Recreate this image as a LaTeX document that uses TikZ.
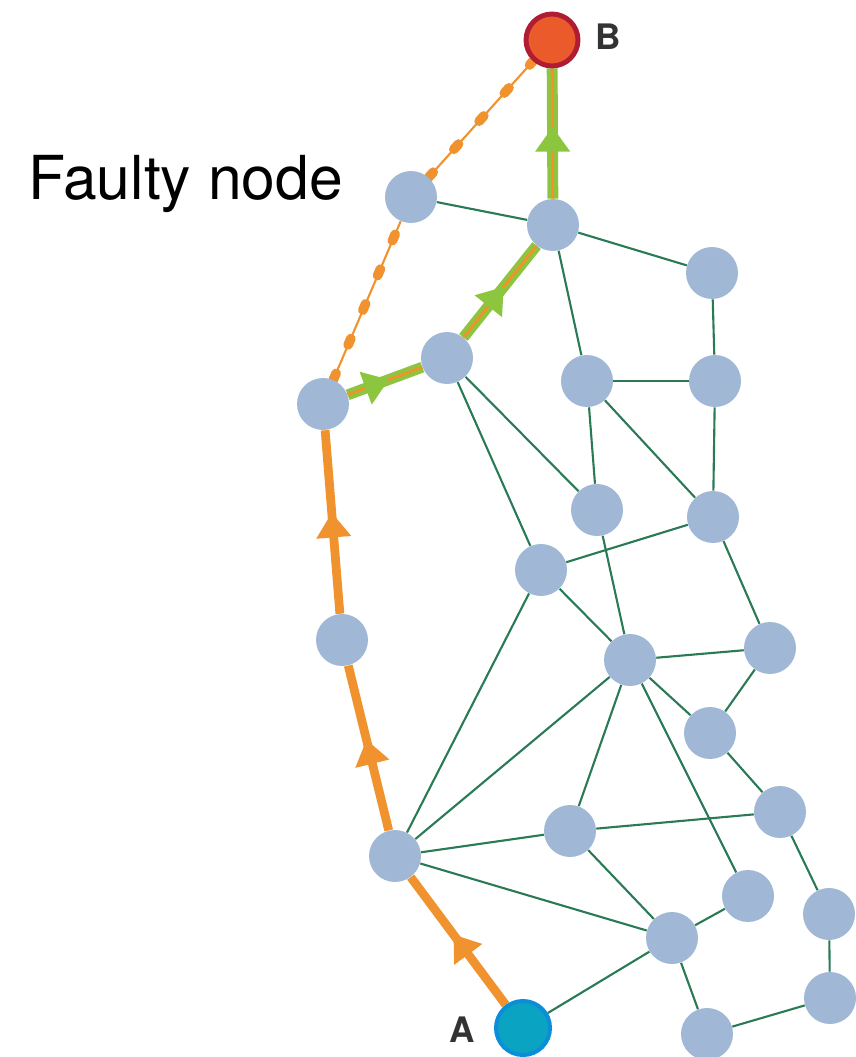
\documentclass[tikz,border=0pt]{standalone}
\usepackage{fontspec}
\setmainfont{TeX Gyre Heros}
\usetikzlibrary{arrows.meta,decorations.markings,backgrounds}

\definecolor{routerblue}{HTML}{A0B8D6}
\definecolor{linkgreen}{HTML}{2A7A55}
\definecolor{wayorange}{HTML}{F0922E}
\definecolor{waygreen}{HTML}{8CC63F}
\definecolor{srcfill}{HTML}{0AA3C2}
\definecolor{srcring}{HTML}{0A8ED9}
\definecolor{dstfill}{HTML}{EB5A2B}
\definecolor{dstring}{HTML}{B01C33}
\definecolor{lblgray}{HTML}{333333}

\begin{document}
\begin{tikzpicture}[x=0.02cm,y=-0.02cm,
  router/.style={circle,fill=routerblue,minimum size=1.04cm,inner sep=0pt},
  link/.style={linkgreen,line width=1.2pt},
  midtip/.style={postaction={decorate,decoration={markings,
    mark=at position .55 with {\arrow{Triangle[length=14pt,width=20pt,line width=0pt]}}}}},
  oldway/.style={wayorange,line width=5pt,midtip},
  newway/.style={waygreen,line width=6.2pt,
    postaction={draw,wayorange,line width=1.6pt},midtip},
  faultway/.style={wayorange,line width=1.2pt,
    postaction={draw,line width=5.5pt,line cap=round,dash pattern=on 4pt off 17.5pt}},
  endlbl/.style={font=\fontsize{20}{24}\selectfont\bfseries,text=lblgray,inner sep=0pt}]

\useasboundingbox (0,0) rectangle (855,1057);

% routers
\node[router] (faulty) at (411,197) {};
\node[router] (r1) at (553,225) {};
\node[router] (r2) at (712,273) {};
\node[router] (r3) at (447,358) {};
\node[router] (r4) at (587,381) {};
\node[router] (r5) at (715,381) {};
\node[router] (r6) at (323,404) {};
\node[router] (r7) at (597,510) {};
\node[router] (r8) at (713,517) {};
\node[router] (r9) at (541,570) {};
\node[router] (r10) at (342,640) {};
\node[router] (r11) at (630,660) {};
\node[router] (r12) at (770,648) {};
\node[router] (r13) at (710,733) {};
\node[router] (r14) at (780,812) {};
\node[router] (r15) at (570,831) {};
\node[router] (r16) at (395,856) {};
\node[router] (r17) at (748,896) {};
\node[router] (r18) at (672,938) {};
\node[router] (r19) at (829,914) {};
\node[router] (r20) at (830,998) {};
\node[router] (r21) at (707,1034) {};

\node[circle,fill=srcfill,draw=srcring,line width=2.3pt,minimum size=1.08cm,inner sep=0pt] (a) at (523,1028) {};
\node[circle,fill=dstfill,draw=dstring,line width=2.8pt,minimum size=1.04cm,inner sep=0pt] (b) at (552,40) {};

\node[endlbl] (alabel) at (462,1030) {A};
\node[endlbl] (blabel) at (608,37) {B};
\node[anchor=base west,inner sep=0pt,font=\fontsize{34.5}{40}\selectfont] (faultlabel) at (28,200) {Faulty node};

\begin{scope}[on background layer]
\foreach \u/\v in {faulty/r1,r1/r2,r1/r4,r2/r5,r4/r5,r4/r7,r4/r8,r5/r8,r3/r7,r3/r9,
  r9/r8,r7/r11,r8/r12,r9/r11,r9/r16,r11/r12,r12/r13,r11/r13,r13/r14,r11/r16,
  r11/r15,r11/r17,r15/r14,r15/r18,r16/r15,r16/r18,r18/r17,r18/r21,r14/r19,
  r19/r20,r20/r21,a/r18}
  \draw[link] (\u) -- (\v);

\draw[faultway] (r6) -- (faulty);
\draw[faultway] (faulty) -- (b);

\foreach \u/\v in {a/r16,r16/r10,r10/r6}
  \draw[oldway] (\u) -- (\v);
\foreach \u/\v in {r6/r3,r3/r1,r1/b}
  \draw[newway] (\u) -- (\v);
\end{scope}

\end{tikzpicture}
\end{document}
